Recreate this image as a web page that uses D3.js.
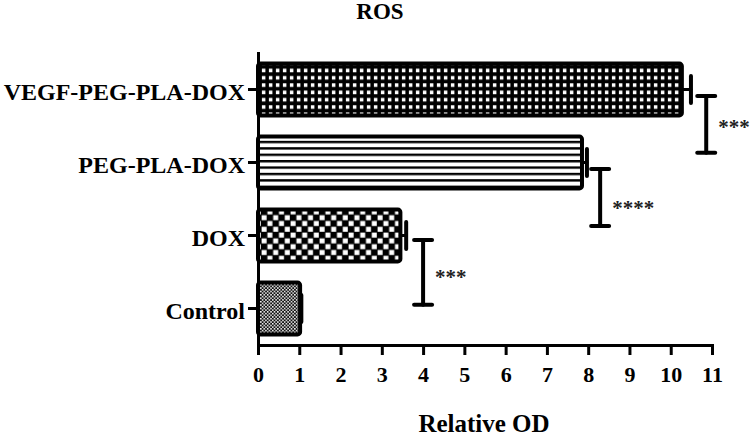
<!DOCTYPE html>
<html>
<head>
<meta charset="utf-8">
<script src="https://cdn.jsdelivr.net/npm/d3@7"></script>
<style>
  html, body { margin: 0; padding: 0; background: #fff; }
  svg { display: block; }
  text { font-family: "Liberation Serif", "Times New Roman", serif; font-weight: bold; fill: #000; }
</style>
</head>
<body>
<svg id="chart" width="750" height="436"></svg>
<script>
// ---- data ----
const categories = ["VEGF-PEG-PLA-DOX", "PEG-PLA-DOX", "DOX", "Control"];
const values = [10.27, 7.85, 3.45, 1.02];
const errors = [0.22, 0.12, 0.14, 0.03];
const patterns = ["grid", "hlines", "checker", "fine"];
const xTicks = [0, 1, 2, 3, 4, 5, 6, 7, 8, 9, 10, 11];
// significance brackets: x value, span in category-index units, star label
const sigX = [10.86, 8.29, 4.0];
const sigFrom = [0.09, 1.09, 2.06];
const sigTo = [0.866, 1.87, 2.95];
const sigStarPos = [0.455, 1.57, 2.51];
const sigLabels = ["***", "****", "***"];
const title = "ROS";
const xLabel = "Relative OD";

// ---- layout ----
const svg = d3.select("#chart");
const mLeft = 258, mRight = 712, mTop = 53, mBottom = 345;

const x = d3.scaleLinear().domain([0, 11]).range([mLeft, mRight]);
const y = d3.scaleBand().domain(categories).range([mTop, mBottom])
  .paddingInner(0.29).paddingOuter(0.145);
const yi = d3.scaleLinear().domain([0, 1])
  .range([y(categories[0]) + y.bandwidth() / 2, y(categories[1]) + y.bandwidth() / 2]);

// ---- patterns ----
const defs = svg.append("defs");
{
  const p = defs.append("pattern").attr("id", "grid").attr("patternUnits", "userSpaceOnUse")
    .attr("width", 7).attr("height", 7.3);
  p.append("rect").attr("width", 7).attr("height", 7.3).attr("fill", "#000");
  p.append("rect").attr("x", 2.9).attr("y", 3.0).attr("width", 3.5).attr("height", 3.6).attr("fill", "#fff");
}
{
  const p = defs.append("pattern").attr("id", "hlines").attr("patternUnits", "userSpaceOnUse")
    .attr("width", 8).attr("height", 6.4);
  p.append("rect").attr("width", 8).attr("height", 6.4).attr("fill", "#fff");
  p.append("rect").attr("y", 0).attr("width", 8).attr("height", 2.4).attr("fill", "#000");
}
{
  const p = defs.append("pattern").attr("id", "checker").attr("patternUnits", "userSpaceOnUse")
    .attr("width", 11.6).attr("height", 11.6);
  p.append("rect").attr("width", 11.6).attr("height", 11.6).attr("fill", "#000");
  p.append("rect").attr("x", 0.6).attr("y", 0.6).attr("width", 5).attr("height", 5).attr("fill", "#fff");
  p.append("rect").attr("x", 6.4).attr("y", 6.4).attr("width", 5).attr("height", 5).attr("fill", "#fff");
}
{
  const p = defs.append("pattern").attr("id", "fine").attr("patternUnits", "userSpaceOnUse")
    .attr("width", 3.4).attr("height", 3.4);
  p.append("rect").attr("width", 3.4).attr("height", 3.4).attr("fill", "#111");
  p.append("rect").attr("x", 0).attr("y", 0).attr("width", 1.5).attr("height", 1.5).attr("fill", "#fff");
  p.append("rect").attr("x", 1.7).attr("y", 1.7).attr("width", 1.5).attr("height", 1.5).attr("fill", "#fff");
}

// ---- bars ----
const rows = categories.map((c, i) => ({ c, v: values[i], e: errors[i], p: patterns[i] }));

svg.append("g").selectAll("rect").data(rows).join("rect")
  .attr("x", x(0))
  .attr("y", d => y(d.c))
  .attr("width", d => x(d.v) - x(0))
  .attr("height", y.bandwidth())
  .attr("rx", 2.5)
  .attr("fill", d => `url(#${d.p})`)
  .attr("stroke", "#000")
  .attr("stroke-width", 4);

// error bars
const eg = svg.append("g").attr("stroke", "#000").attr("stroke-linecap", "round");
eg.selectAll("line.stem").data(rows).join("line").attr("class", "stem")
  .attr("x1", d => x(d.v)).attr("x2", d => x(d.v + d.e))
  .attr("y1", d => y(d.c) + y.bandwidth() / 2).attr("y2", d => y(d.c) + y.bandwidth() / 2)
  .attr("stroke-width", 3);
eg.selectAll("line.cap").data(rows).join("line").attr("class", "cap")
  .attr("x1", d => x(d.v + d.e)).attr("x2", d => x(d.v + d.e))
  .attr("y1", d => y(d.c) + y.bandwidth() / 2 - 13.5)
  .attr("y2", d => y(d.c) + y.bandwidth() / 2 + 13.5)
  .attr("stroke-width", 4);

// significance brackets
const sig = sigX.map((v, i) => ({ v, a: sigFrom[i], b: sigTo[i], s: sigStarPos[i], t: sigLabels[i] }));
const sg = svg.append("g").attr("stroke", "#000").attr("stroke-width", 4).attr("stroke-linecap", "round");
sg.selectAll("line.v").data(sig).join("line").attr("class", "v")
  .attr("x1", d => x(d.v)).attr("x2", d => x(d.v))
  .attr("y1", d => yi(d.a)).attr("y2", d => yi(d.b));
sg.selectAll("line.t").data(sig).join("line").attr("class", "t")
  .attr("x1", d => x(d.v) - 9).attr("x2", d => x(d.v) + 9)
  .attr("y1", d => yi(d.a)).attr("y2", d => yi(d.a));
sg.selectAll("line.b").data(sig).join("line").attr("class", "b")
  .attr("x1", d => x(d.v) - 9).attr("x2", d => x(d.v) + 9)
  .attr("y1", d => yi(d.b)).attr("y2", d => yi(d.b));
svg.append("g").selectAll("text").data(sig).join("text")
  .attr("x", d => x(d.v) + 12)
  .attr("y", d => yi(d.s) + 11)
  .attr("font-size", 21)
  .style("fill", "#222")
  .text(d => d.t);

// ---- axes ----
const xAxis = svg.append("g").attr("transform", `translate(0,${mBottom})`)
  .call(d3.axisBottom(x).tickValues(xTicks).tickFormat(d3.format("d"))
    .tickSize(10).tickSizeOuter(0).tickPadding(11));
const yAxis = svg.append("g").attr("transform", `translate(${mLeft},0)`)
  .call(d3.axisLeft(y).tickSize(10).tickSizeOuter(0).tickPadding(3));

[xAxis, yAxis].forEach(g => {
  g.select(".domain").attr("stroke", "#000").attr("stroke-width", 3).attr("stroke-linecap", "square");
  g.selectAll(".tick line").attr("stroke", "#000").attr("stroke-width", 3);
});
xAxis.selectAll(".tick text").attr("font-size", 22).attr("font-family", null).style("fill", "#000");
yAxis.selectAll(".tick text").attr("font-size", 24).attr("font-family", null).attr("dy", "0.45em").style("fill", "#000");

// ---- titles ----
svg.append("text").attr("x", 380).attr("y", 19).attr("text-anchor", "middle")
  .attr("font-size", 23).text(title);
svg.append("text").attr("x", 484).attr("y", 432).attr("text-anchor", "middle")
  .attr("font-size", 25).text(xLabel);
</script>
</body>
</html>
